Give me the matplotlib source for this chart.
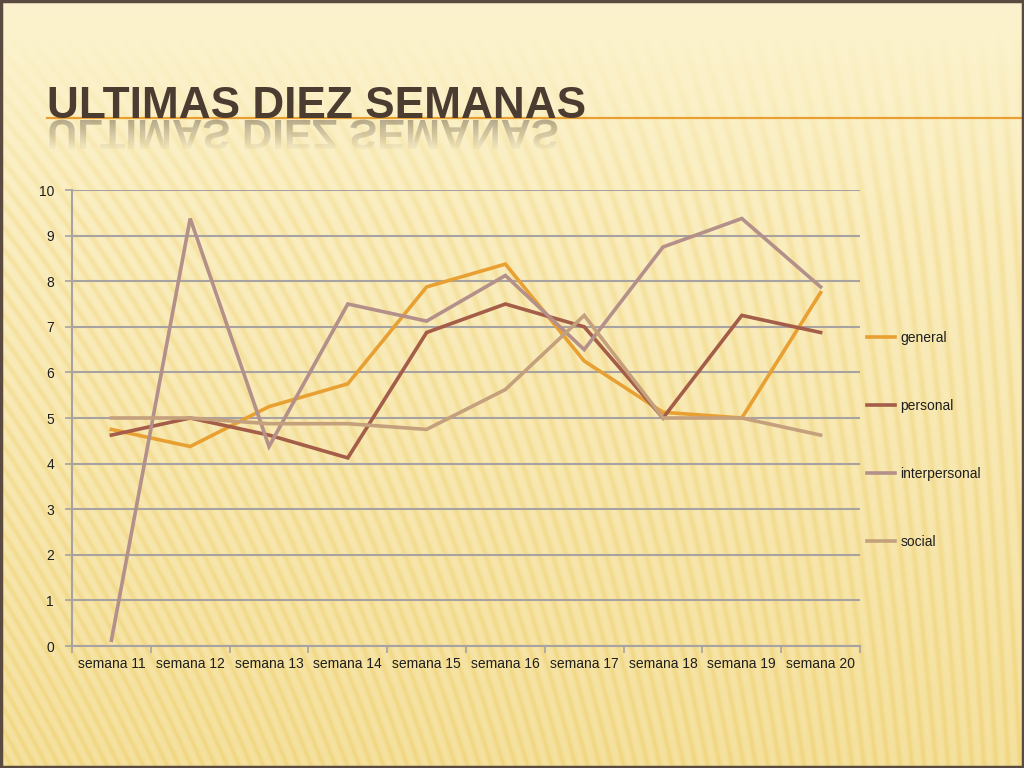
import numpy as np
import matplotlib
matplotlib.use("Agg")
import matplotlib.pyplot as plt
from matplotlib.textpath import TextPath
from matplotlib.patches import PathPatch, Rectangle
from matplotlib.font_manager import FontProperties
from matplotlib.ticker import FixedLocator, NullFormatter

# ---------------------------------------------------------------- data
semanas = ["semana 11", "semana 12", "semana 13", "semana 14", "semana 15",
           "semana 16", "semana 17", "semana 18", "semana 19", "semana 20"]
general = [4.75, 4.375, 5.25, 5.75, 7.875, 8.375, 6.25, 5.125, 5.0, 7.75]
personal = [4.625, 5.0, 4.625, 4.125, 6.875, 7.5, 7.0, 5.0, 7.25, 6.875]
interpersonal = [0.125, 9.375, 4.375, 7.5, 7.125, 8.125, 6.5, 8.75, 9.375, 7.875]
social = [5.0, 5.0, 4.875, 4.875, 4.75, 5.625, 7.25, 5.0, 5.0, 4.625]

series = [("general", general, "#E9A033"),
          ("personal", personal, "#A35D48"),
          ("interpersonal", interpersonal, "#B39089"),
          ("social", social, "#C4A07C")]

titulo = "ULTIMAS DIEZ SEMANAS"
color_titulo = "#4A3C31"

# ---------------------------------------------------------------- slide
W, H = 1024, 768
fig = plt.figure(figsize=(W / 100, H / 100), dpi=100)

bg = fig.add_axes([0, 0, 1, 1])
bg.set_xlim(0, W)
bg.set_ylim(H, 0)
bg.axis("off")
bg.set_zorder(0)

# fondo crema con rayas diagonales
yy, xx = np.mgrid[0:H, 0:W].astype(float)
t = yy / H
base = np.stack([252 - 7 * t, 243 - 18 * t, 206 - 48 * t], axis=-1)
pendiente = 0.55 - 0.5 * (xx / W)
fase = 2 * np.pi * (xx + pendiente * (H - yy)) / 12.0
raya = ((1 + np.cos(fase)) / 2) ** 2
amp = np.clip((yy - 20) / 200, 0, 1) * 0.75
oscuro = np.array([5, 14, 38])
img = base - (amp * raya)[..., None] * oscuro
bg.imshow(np.clip(img, 0, 255).astype(np.uint8), extent=(0, W, H, 0),
          aspect="auto", zorder=0)

# marco y linea naranja del titulo
bg.add_patch(Rectangle((1, 1), W - 2, H - 2, fill=False, ec="#5A4A40",
                       lw=2.5, zorder=3))
bg.plot([47, W], [118, 118], color="#E9A033", lw=1.6, zorder=1)

# titulo (texto real) y su reflejo
fam = ["Liberation Sans Narrow", "Liberation Sans", "DejaVu Sans"]
tt = fig.text(47 / W, 1 - 118 / H, titulo, fontsize=38, fontweight="bold",
              family=fam, color=color_titulo, va="baseline", ha="left",
              zorder=5)
fig.canvas.draw()
ancho = tt.get_window_extent().width
tt.set_fontsize(38 * 538 / ancho)

prop = FontProperties(family=fam, weight="bold")
tp = TextPath((47, 120), titulo, size=tt.get_fontsize() * 100 / 72 * 0.95,
              prop=prop)
parche = PathPatch(tp, fc="none", ec="none")
bg.add_patch(parche)
grad = np.zeros((60, 2, 4))
grad[..., :3] = matplotlib.colors.to_rgb(color_titulo)
grad[..., 3] = np.linspace(0.4, 0.0, 60)[:, None]
refl = bg.imshow(grad, extent=(40, 600, 152, 119), aspect="auto", zorder=2)
refl.set_clip_path(parche)

# ---------------------------------------------------------------- chart
ax = fig.add_axes([72 / W, 1 - 646 / H, (860 - 72) / W, (646 - 190) / H])
ax.set_zorder(1)
ax.patch.set_alpha(0)

x = np.arange(len(semanas))
for nombre, vals, col in series:
    ax.plot(x, vals, color=col, lw=2.6, label=nombre, solid_joinstyle="miter")

gris = "#A8A2A0"
ax.set_xlim(-0.5, len(semanas) - 0.5)
ax.set_ylim(0, 10)
ax.set_yticks(range(0, 11))
ax.yaxis.grid(True, color=gris, lw=1.5)
ax.set_axisbelow(True)
ax.set_xticks(x)
ax.set_xticklabels(semanas)
ax.xaxis.set_minor_locator(FixedLocator(np.arange(-0.5, len(semanas), 1.0)))
ax.xaxis.set_minor_formatter(NullFormatter())
ax.tick_params(axis="x", which="major", length=0, pad=8)
ax.tick_params(axis="x", which="minor", length=5, color=gris, width=1.2)
ax.tick_params(axis="y", length=5, color=gris, width=1.2, pad=8)
for lab in ax.get_xticklabels() + ax.get_yticklabels():
    lab.set_family(["Liberation Sans", "DejaVu Sans"])
    lab.set_fontsize(10)
    lab.set_color("#1E1E1E")
for s in ["top", "right"]:
    ax.spines[s].set_visible(False)
for s in ["left", "bottom"]:
    ax.spines[s].set_color(gris)
    ax.spines[s].set_linewidth(1.5)

leg = fig.legend(loc="center left", bbox_to_anchor=(867 / W, 1 - 440 / H),
                 frameon=False, handlelength=2.0, handletextpad=0.4,
                 labelspacing=3.9, borderpad=0, borderaxespad=0,
                 prop={"family": ["Liberation Sans", "DejaVu Sans"], "size": 10})
for txt in leg.get_texts():
    txt.set_color("#1E1E1E")

fig.savefig("out.png", dpi=100)
